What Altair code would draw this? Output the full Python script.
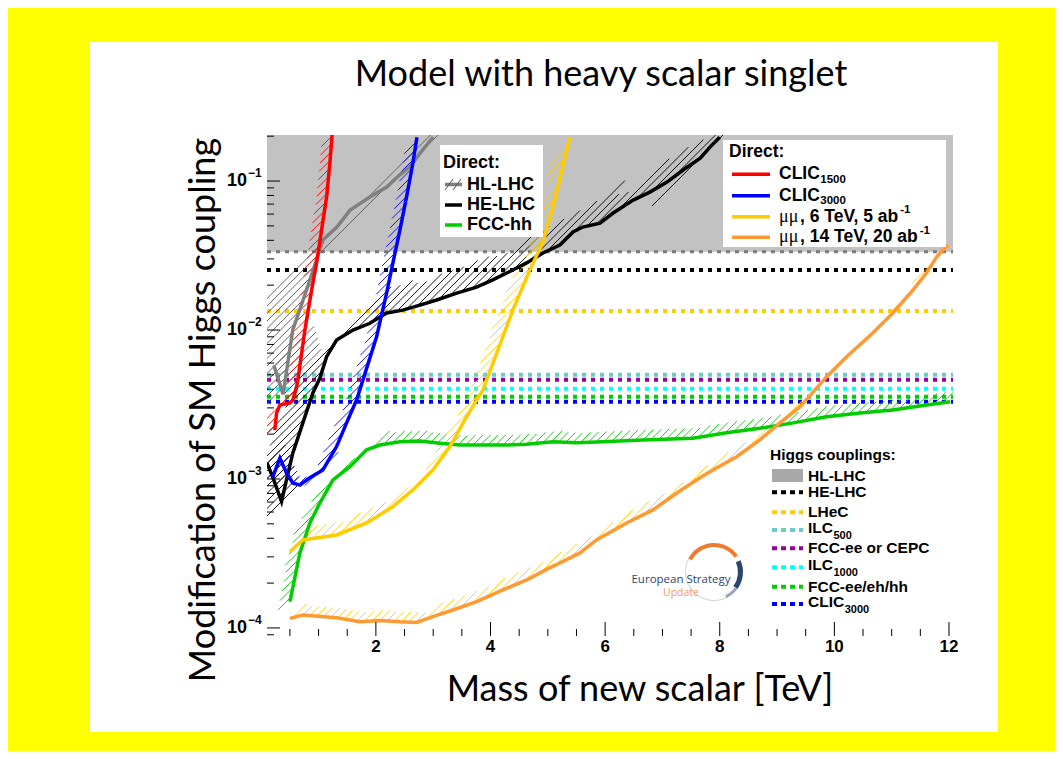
import math
import altair as alt
import pandas as pd

# ---------------- data ----------------
# Direct searches: mass of new scalar [TeV] vs. modification of SM Higgs coupling
hl_lhc_m = [0.22, 0.38, 0.55, 0.85, 1.075, 1.32, 1.55, 1.895, 2.19, 2.37, 2.59, 2.77, 3.0]
hl_lhc_c = [0.0058, 0.0037, 0.0100, 0.0217, 0.0402, 0.0491, 0.0638, 0.0781, 0.0912, 0.106, 0.124, 0.154, 0.197]

he_lhc_m = [0.1, 0.2, 0.354, 0.44, 0.55, 0.726, 0.90, 1.023, 1.14, 1.314, 1.60, 1.895, 2.187, 2.47,
            2.768, 3.06, 3.41, 3.757, 4.04, 4.39, 4.63, 4.915, 5.21, 5.44, 5.61, 5.91, 6.14, 6.49,
            6.78, 7.08, 7.36, 7.66, 7.83, 8.0]
he_lhc_c = [0.00128, 0.00103, 0.000705, 0.000985, 0.00149, 0.00238, 0.00378, 0.00476, 0.00662,
            0.00857, 0.0100, 0.0111, 0.0130, 0.0136, 0.0147, 0.0159, 0.0177, 0.0194, 0.0217, 0.0253,
            0.0282, 0.0329, 0.0372, 0.0455, 0.0491, 0.0522, 0.061, 0.0745, 0.0843, 0.0984, 0.1186,
            0.1426, 0.169, 0.197]

fcc_hh_m = [0.50, 0.674, 0.848, 1.023, 1.25, 1.546, 1.838, 2.07, 2.42, 2.77, 3.117, 3.466, 3.815,
            4.28, 4.63, 5.09, 5.50, 5.96, 6.66, 7.53, 8.12, 8.70, 9.28, 9.866, 10.45, 11.02, 11.61, 12.02]
fcc_hh_c = [0.00015, 0.000319, 0.000507, 0.00069, 0.000985, 0.00121, 0.00157, 0.00169, 0.00178,
            0.0018, 0.00174, 0.00169, 0.00169, 0.00169, 0.00171, 0.00178, 0.00175, 0.00178, 0.00183,
            0.00188, 0.00204, 0.00219, 0.00238, 0.00262, 0.00277, 0.0029, 0.00314, 0.0033]

clic1500_m = [0.237, 0.267, 0.325, 0.50, 0.55, 0.616, 0.644, 0.761, 0.878, 0.965, 1.052, 1.14, 1.197, 1.244]
clic1500_c = [0.00213, 0.00277, 0.00314, 0.00324, 0.00339, 0.00414, 0.00476, 0.0100, 0.0185, 0.0282,
              0.0469, 0.0781, 0.132, 0.22]

clic3000_m = [0.20, 0.325, 0.44, 0.55, 0.674, 0.848, 1.075, 1.314, 1.489, 1.663, 1.773, 2.012, 2.187,
              2.297, 2.419, 2.536, 2.646, 2.716]
clic3000_c = [0.00103, 0.00138, 0.0011, 0.00094, 0.00091, 0.00102, 0.00115, 0.00165, 0.00238, 0.00339,
              0.00461, 0.009, 0.0177, 0.0282, 0.0469, 0.0785, 0.132, 0.197]

mumu6_m = [0.50, 0.726, 1.314, 1.838, 2.297, 2.646, 2.995, 3.292, 3.583, 3.867, 4.39, 4.686, 4.91, 5.09, 5.386]
mumu6_c = [0.000325, 0.00039, 0.000421, 0.000507, 0.000652, 0.000844, 0.00115, 0.00165, 0.00262,
           0.00395, 0.0136, 0.0253, 0.0384, 0.067, 0.197]

mumu14_m = [0.50, 0.726, 1.314, 1.72, 2.07, 2.42, 2.71, 2.995, 3.345, 3.757, 4.216, 4.63, 5.03, 5.21,
            5.56, 5.85, 6.375, 6.834, 7.25, 7.655, 7.88, 8.295, 8.70, 9.05, 9.40, 9.866, 10.215, 10.67,
            11.02, 11.37, 11.61, 11.785, 11.98]
mumu14_c = [0.000116, 0.000122, 0.000117, 0.00011, 0.000112, 0.00011, 0.000109, 0.000119, 0.000132,
            0.00015, 0.00018, 0.00021, 0.000253, 0.000273, 0.000319, 0.00039, 0.000507, 0.00062,
            0.000805, 0.00102, 0.00115, 0.00141, 0.00183, 0.00238, 0.00305, 0.00486, 0.00662, 0.00955,
            0.013, 0.0185, 0.0242, 0.031, 0.0372]

# Higgs coupling precision (horizontal lines)
higgs_names = ["HE-LHC", "LHeC", "ILC500", "FCC-ee or CEPC", "ILC1000", "FCC-ee/eh/hh", "CLIC3000"]
higgs_values = [0.0253, 0.0134, 0.0050, 0.00464, 0.00403, 0.00357, 0.0033]
higgs_colors = ["#000000", "#ffcc00", "#66cccc", "#990099", "#00ffff", "#00cc00", "#0000ff"]
hl_lhc_higgs_bound = [0.0335]

# axis ticks
x_major = [2, 4, 6, 8, 10, 12]
x_labels = ["2", "4", "6", "8", "10", "12"]
x_minor = [0.5, 1, 1.5, 2.5, 3, 3.5, 4.5, 5, 5.5, 6.5, 7, 7.5, 8.5, 9, 9.5, 10.5, 11, 11.5]
y_major = [1e-4, 1e-3, 1e-2, 1e-1]
y_major_exp = ["\u22124", "\u22123", "\u22122", "\u22121"]

# ---------------- layout ----------------
W, H = 686, 501
X0, Y0 = 267, 135
XMIN, XMAX = 0.1, 12.07
YMIN, YMAX = 8.83e-5, 0.2037
LYMIN, LYMAX = math.log10(YMIN), math.log10(YMAX)
y_minor = [m * 10.0 ** e for e in (-5, -4, -3, -2, -1) for m in range(2, 10)
           if YMIN < m * 10.0 ** e < YMAX]

XSCALE = alt.Scale(domain=[XMIN, XMAX], nice=False, zero=False)
YSCALE = alt.Scale(type="log", domain=[YMIN, YMAX], nice=False)


def XE(f="x"):
    return alt.X(f + ":Q", scale=XSCALE, axis=None, title=None)


def YE(f="y"):
    return alt.Y(f + ":Q", scale=YSCALE, axis=None, title=None)


def P(px):
    return px - X0


def Q(py):
    return py - Y0


ONE = pd.DataFrame({"k": [0]})


def text(px, py, s, size, weight="bold", font="Liberation Sans", color="black",
         align="left", baseline="middle", angle=0):
    return alt.Chart(ONE).mark_text(text=s, font=font, fontSize=size, fontWeight=weight, color=color,
                                    align=align, baseline=baseline, angle=angle).encode(
        x=alt.value(P(px)), y=alt.value(Q(py)))


def seg(px1, py1, px2, py2, color, width, dash=None):
    kw = dict(color=color, strokeWidth=width)
    if dash:
        kw["strokeDash"] = dash
    return alt.Chart(ONE).mark_rule(**kw).encode(
        x=alt.value(P(px1)), y=alt.value(Q(py1)), x2=alt.value(P(px2)), y2=alt.value(Q(py2)))


def box(px1, py1, px2, py2, color):
    return alt.Chart(ONE).mark_rect(color=color).encode(
        x=alt.value(P(px1)), y=alt.value(Q(py1)), x2=alt.value(P(px2)), y2=alt.value(Q(py2)))


AW = {" ": .278, ",": .278, "-": .333, ".": .278, ":": .333, "/": .278, "0": .556, "1": .556,
      "2": .556, "3": .556, "4": .556, "5": .556, "6": .556, "7": .556, "8": .556, "9": .556,
      "A": .722, "C": .722, "D": .722, "E": .667, "F": .611, "H": .722, "I": .278, "L": .611,
      "P": .667, "T": .611, "V": .667, "a": .556, "b": .611, "c": .556, "e": .556, "g": .611,
      "h": .611, "i": .278, "l": .278, "n": .611, "o": .611, "p": .611, "r": .389, "s": .556,
      "t": .333, "u": .611}


def tw(s, size):
    return sum(AW.get(ch, 0.6) for ch in s) * size


# ---------------- hatching derived from the curves ----------------
def hatch(xs, ys, width, spacing=7.5, cap=3.0):
    u = [(x - XMIN) / (XMAX - XMIN) * W for x in xs]
    v = [(math.log10(y) - LYMIN) / (LYMAX - LYMIN) * H for y in ys]
    d0 = d1 = 1 / math.sqrt(2)
    rows = []
    for i in range(len(u) - 1):
        u0, v0, u1, v1 = u[i], v[i], u[i + 1], v[i + 1]
        f0, f1 = u0 - v0, u1 - v1
        if f0 == f1:
            continue
        L = math.hypot(u1 - u0, v1 - v0)
        tu, tv = (u1 - u0) / L, (v1 - v0) / L
        nu, nv = -tv, tu
        s = 1 if (nu * d0 + nv * d1) > 0 else -1
        sinang = abs(tu * d1 - tv * d0)
        length = min(width / max(sinang, 1e-6), cap * width)
        lo, hi = min(f0, f1), max(f0, f1)
        k = math.ceil(lo / spacing)
        while k * spacing <= hi:
            c = k * spacing
            t = (c - f0) / (f1 - f0)
            pu, pv = u0 + t * (u1 - u0), v0 + t * (v1 - v0)
            qu, qv = pu + s * d0 * length, pv + s * d1 * length
            rows.append({
                "x": XMIN + pu / W * (XMAX - XMIN), "y": 10 ** (LYMIN + pv / H * (LYMAX - LYMIN)),
                "x2": XMIN + qu / W * (XMAX - XMIN), "y2": 10 ** (LYMIN + qv / H * (LYMAX - LYMIN))})
            k += 1
    return pd.DataFrame(rows)


curves = [
    (hl_lhc_m, hl_lhc_c, "#808080", "#555555", 50),
    (he_lhc_m, he_lhc_c, "#000000", "#000000", 24),
    (fcc_hh_m, fcc_hh_c, "#00cc00", "#00cc00", 10),
    (clic1500_m, clic1500_c, "#ff0000", "#ff0000", 10),
    (clic3000_m, clic3000_c, "#0000ff", "#0000ff", 10),
    (mumu6_m, mumu6_c, "#ffcc00", "#ffcc00", 12),
    (mumu14_m, mumu14_c, "#ff9933", "#ffcc00", 10),
]

layers = []
# white slide panel
layers.append(box(90, 42, 998, 732, "white"))

# HL-LHC Higgs-coupling region
layers.append(alt.Chart(pd.DataFrame({"y": hl_lhc_higgs_bound})).mark_rect(color="#c2c2c2").encode(
    x=alt.value(0), x2=alt.value(W), y=YE(), y2=alt.value(0)))
layers.append(alt.Chart(pd.DataFrame({"y": hl_lhc_higgs_bound})).mark_rule(
    color="#7a7a7a", strokeWidth=3, strokeDash=[4, 5]).encode(x=alt.value(0), x2=alt.value(W), y=YE()))

# Higgs coupling dotted lines
hdf = pd.DataFrame({"name": higgs_names, "y": higgs_values})
layers.append(alt.Chart(hdf).mark_rule(strokeWidth=4, strokeDash=[4, 5]).encode(
    x=alt.value(0), x2=alt.value(W), y=YE(),
    color=alt.Color("name:N", scale=alt.Scale(domain=higgs_names, range=higgs_colors), legend=None)))

# hatches
for xs, ys, col, hcol, wdt in curves:
    hd = hatch(xs, ys, wdt)
    layers.append(alt.Chart(hd).mark_rule(color=hcol, strokeWidth=0.9, clip=True).encode(
        x=XE(), y=YE(), x2=alt.X2("x2:Q"), y2=alt.Y2("y2:Q")))

# curves
for xs, ys, col, hcol, wdt in curves:
    cd = pd.DataFrame({"x": xs, "y": ys})
    layers.append(alt.Chart(cd).mark_line(color=col, strokeWidth=3.5, clip=True).encode(
        x=XE(), y=YE()))

# ticks (inside, ROOT style)
layers.append(alt.Chart(pd.DataFrame({"x": x_major})).mark_rule(color="black", strokeWidth=1).encode(
    x=XE(), y=alt.value(H), y2=alt.value(H - 14)))
layers.append(alt.Chart(pd.DataFrame({"x": x_minor})).mark_rule(color="black", strokeWidth=1).encode(
    x=XE(), y=alt.value(H), y2=alt.value(H - 7)))
layers.append(alt.Chart(pd.DataFrame({"y": y_major})).mark_rule(color="black", strokeWidth=1).encode(
    y=YE(), x=alt.value(0), x2=alt.value(13)))
layers.append(alt.Chart(pd.DataFrame({"y": y_minor})).mark_rule(color="black", strokeWidth=1).encode(
    y=YE(), x=alt.value(0), x2=alt.value(7)))

# x tick labels
xlab = pd.DataFrame({"x": x_major, "t": x_labels})
layers.append(alt.Chart(xlab).mark_text(font="Liberation Sans", fontWeight="bold", fontSize=17,
                                        align="center", baseline="middle", color="black").encode(
    x=XE(), y=alt.value(Q(647)), text="t:N"))

# y tick labels 10^-n
ylab = pd.DataFrame({"y": y_major, "e": y_major_exp})
layers.append(alt.Chart(ylab).mark_text(text="10", font="Liberation Sans", fontWeight="bold", fontSize=18,
                                        align="right", baseline="middle", color="black").encode(
    y=YE(), x=alt.value(P(247))))
layers.append(alt.Chart(ylab).mark_text(font="Liberation Sans", fontWeight="bold", fontSize=12,
                                        align="left", baseline="middle", dy=-8, color="black").encode(
    y=YE(), x=alt.value(P(248)), text="e:N"))

# titles
layers.append(text(601, 75, "Model with heavy scalar singlet", 36, weight="normal", font="Lato", align="center"))
layers.append(text(640, 690, "Mass of new scalar [TeV]", 36, weight="normal", font="Lato", align="center"))
layers.append(text(204, 410, "Modification of SM Higgs coupling", 36, weight="normal", font="Lato",
                   align="center", angle=270))

# ---- left "Direct:" legend ----
layers.append(box(440, 145, 543, 237, "white"))
layers.append(text(443, 163, "Direct:", 18))
layers.append(seg(445, 184.5, 462, 184.5, "#808080", 3.5))
for hx in (449, 457):
    layers.append(seg(hx - 4, 190, hx + 4, 179, "#555555", 1))
layers.append(text(467, 184.5, "HL-LHC", 18))
layers.append(seg(445, 205, 462, 205, "#000000", 3.5))
layers.append(text(467, 205, "HE-LHC", 18))
layers.append(seg(445, 225, 462, 225, "#00cc00", 3.5))
layers.append(text(467, 225, "FCC-hh", 18))

# ---- right "Direct:" legend ----
layers.append(box(723, 140, 946, 247, "white"))
layers.append(text(729, 152, "Direct:", 17.5))
RX = 779
for yy, col in ((174.3, "#ff0000"), (195.7, "#0000ff"), (216.7, "#ffcc00"), (237.3, "#ff9933")):
    layers.append(seg(732, yy, 770, yy, col, 3.5))
for yy, sub in ((174.3, "1500"), (195.7, "3000")):
    layers.append(text(RX, yy, "CLIC", 17.5))
    layers.append(text(RX + tw("CLIC", 17.5) + 0.5, yy + 5.5, sub, 11.5))
for yy, rest in ((216.7, ", 6 TeV, 5 ab"), (237.3, ", 14 TeV, 20 ab")):
    layers.append(text(RX, yy, "\u03bc\u03bc", 18, weight="normal", font="Liberation Serif"))
    layers.append(text(RX + 21, yy, rest, 17.5))
    layers.append(text(RX + 21 + tw(rest, 17.5) - 1, yy - 6.5, "-1", 11.5))

# ---- bottom "Higgs couplings:" legend ----
layers.append(text(770, 455, "Higgs couplings:", 15.5))
layers.append(box(772, 469, 803, 482, "#a8a8a8"))
layers.append(text(808, 475.5, "HL-LHC", 15.5))
leg_y = [492.3, 512.3, 530, 548.3, 567.3, 586.7, 604]
leg_base = ["HE-LHC", "LHeC", "ILC", "FCC-ee or CEPC", "ILC", "FCC-ee/eh/hh", "CLIC"]
leg_sub = ["", "", "500", "", "1000", "", "3000"]
for yy, col, base, sub in zip(leg_y, higgs_colors, leg_base, leg_sub):
    layers.append(seg(772, yy, 803, yy, col, 4, dash=[5, 4]))
    ty = yy - 2 if sub else yy
    layers.append(text(808, ty, base, 15.5))
    if sub:
        layers.append(text(808 + tw(base, 15.5) + 0.5, ty + 8, sub, 11))

# ---- European Strategy Update logo ----
LCX, LCY = 714, 572
layers.append(alt.Chart(ONE).mark_arc(radius=29, radius2=28, theta=2.6, theta2=5.3, color="#d6d6d6").encode(
    x=alt.value(P(LCX)), y=alt.value(Q(LCY))))
layers.append(alt.Chart(ONE).mark_arc(radius=29, radius2=25, theta=5.2, theta2=7.25, color="#f07a30").encode(
    x=alt.value(P(LCX)), y=alt.value(Q(LCY))))
layers.append(alt.Chart(ONE).mark_arc(radius=29, radius2=24, theta=1.15, theta2=2.2, color="#2c4672").encode(
    x=alt.value(P(LCX)), y=alt.value(Q(LCY))))
layers.append(alt.Chart(ONE).mark_arc(radius=29, radius2=26, theta=2.2, theta2=2.7, color="#9aa6bb").encode(
    x=alt.value(P(LCX)), y=alt.value(Q(LCY))))
layers.append(text(681, 580, "European Strategy", 11.5, weight="normal", font="Open Sans", color="#2c4672",
                   align="center"))
layers.append(text(681, 592.5, "Update", 10.5, weight="normal", font="Open Sans", color="#f29a62",
                   align="center"))

chart = alt.layer(*layers).properties(
    width=W, height=H,
    padding={"left": X0 - 8, "top": Y0 - 8, "right": 1047 - (X0 - 8) - W, "bottom": 743 - (Y0 - 8) - H},
    autosize=alt.AutoSizeParams(type="none"),
).configure(background="#ffff00").configure_view(stroke="black", strokeWidth=1.2, fill=None)

chart.save("out.html", embed_options={"renderer": "svg", "actions": False})
